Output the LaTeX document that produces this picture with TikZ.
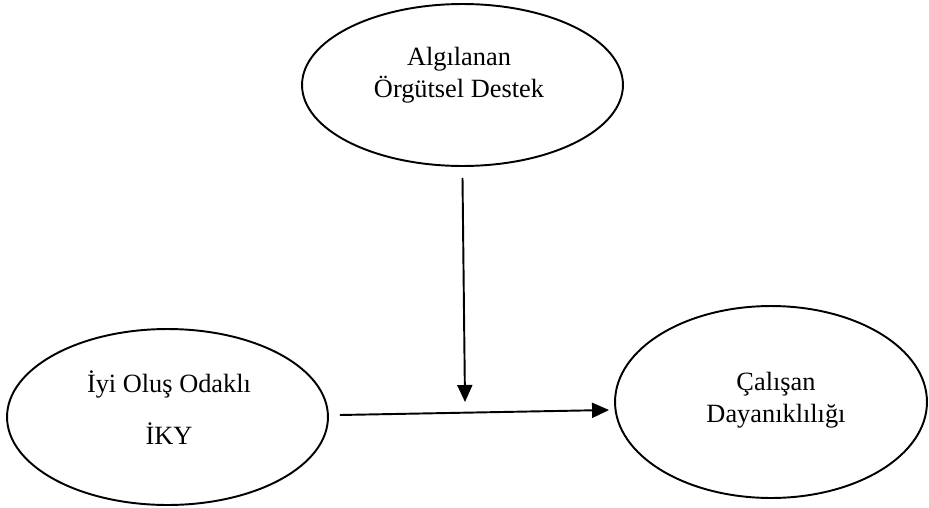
\documentclass[tikz,border=0pt]{standalone}
\usepackage{fontspec}
\setmainfont{Liberation Serif}
\usetikzlibrary{shapes.geometric,arrows.meta}
\begin{document}
\begin{tikzpicture}[x=0.02cm, y=-0.02cm,
    oval/.style={ellipse, draw, line width=1.1pt, inner sep=0pt},
    txt/.style={align=center, font=\fontsize{15}{18}\selectfont},
    arr/.style={line width=1.1pt, -{Triangle[length=0.34cm, width=0.3cm]}}]
      \useasboundingbox (0,0) rectangle (929,507);
      % ellipses, coordinates in pixels of the figure
      \node[oval, minimum width=6.42cm, minimum height=3.24cm] (destek) at (462.5,85) {};
      \node[oval, minimum width=6.42cm, minimum height=3.52cm] (iky) at (167.5,417) {};
      \node[oval, minimum width=6.24cm, minimum height=3.84cm] (dayan) at (771,402) {};
      \node[txt] (destektxt) at (459,75) {Algılanan\\Örgütsel Destek};
      \node[txt] (ikytxt) at (169,408) {İyi Oluş Odaklı\\[11.6pt]İKY};
      \node[txt] (dayantxt) at (776,400) {Çalışan\\Dayanıklılığı};
      \coordinate (meet) at (465,402);
      \draw[arr] ([shift={(0,11)}]destek.south) -- (meet);
      \draw[arr] ([shift={(11,-2)}]iky.east) -- ([shift={(-5,8)}]dayan.west);
    \end{tikzpicture}
\end{document}
